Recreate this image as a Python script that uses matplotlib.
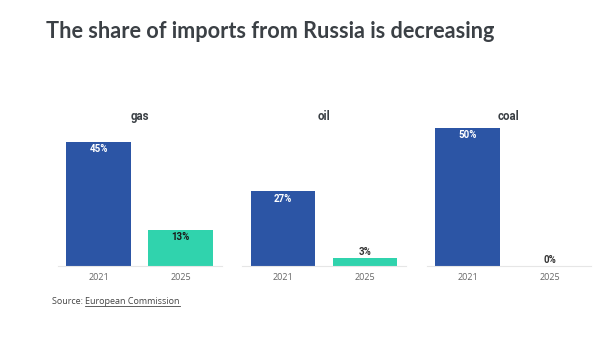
import matplotlib
matplotlib.use("Agg")
import matplotlib.pyplot as plt
from matplotlib.lines import Line2D

# data
categories = ["gas", "oil", "coal"]
years = ["2021", "2025"]
share_2021 = [45, 27, 50]
share_2025 = [13, 3, 0]

blue = "#2c55a5"
green = "#30d3ad"
dark = "#3b4045"

plt.rcParams["font.family"] = ["Open Sans", "DejaVu Sans"]
bold_fam = ["Roboto", "DejaVu Sans"]

fig = plt.figure(figsize=(5.95, 3.40), dpi=100)
W, H = 595, 340

fig.text(46 / W, 1 - 32 / H, "The share of imports from Russia is decreasing",
         fontsize=15.6, fontweight="bold", color=dark, family=["Lato", "DejaVu Sans"],
         va="center", ha="left")

# panel left edges in pixels, each panel 164 px wide
lefts = [57.5, 242, 426.5]
base_y = 266
top_y = 128  # y pixel of 50%

for i, cat in enumerate(categories):
    ax = fig.add_axes([lefts[i] / W, (H - base_y) / H, 164 / W, (base_y - top_y) / H])
    vals = [share_2021[i], share_2025[i]]
    ax.bar([0, 1], vals, width=0.79, color=[blue, green])
    ax.set_xlim(-0.5, 1.5)
    ax.set_ylim(0, 50)
    for s in ["top", "right", "left"]:
        ax.spines[s].set_visible(False)
    ax.spines["bottom"].set_color("#e6e6e6")
    ax.spines["bottom"].set_linewidth(0.8)
    ax.set_yticks([])
    ax.set_xticks([0, 1])
    ax.set_xticklabels(years, fontsize=6.5, color="#666666")
    ax.tick_params(axis="x", length=0, pad=5)
    ax.text(0.5, 54.3, cat, ha="center", va="center", fontsize=8.3,
            fontweight="bold", color=dark, clip_on=False, family=bold_fam)
    for j, v in enumerate(vals):
        label = f"{v}%"
        if v >= 10:
            col = "white" if j == 0 else "#1a1a1a"
            ax.text(j, v - 2.6, label, ha="center", va="center", fontsize=7,
                    fontweight="bold", color=col, family=bold_fam)
        else:
            ax.text(j, v + 2.2, label, ha="center", va="center", fontsize=7,
                    fontweight="bold", color="#333333", family=bold_fam)

src1 = fig.text(52 / W, 1 - 302 / H, "Source: ", fontsize=6.5, color="#444444",
                va="center", ha="left")
fig.canvas.draw()
bb = src1.get_window_extent()
x2 = bb.x1 / (W)
src2 = fig.text(x2, 1 - 302 / H, "European Commission", fontsize=6.5,
                color="#444444", va="center", ha="left")
fig.canvas.draw()
bb2 = src2.get_window_extent()
fig.add_artist(Line2D([bb2.x0 / W, bb2.x1 / W], [(bb2.y0 + 1) / H] * 2,
                      color="#444444", lw=0.6))

fig.savefig("out.png", dpi=100)
